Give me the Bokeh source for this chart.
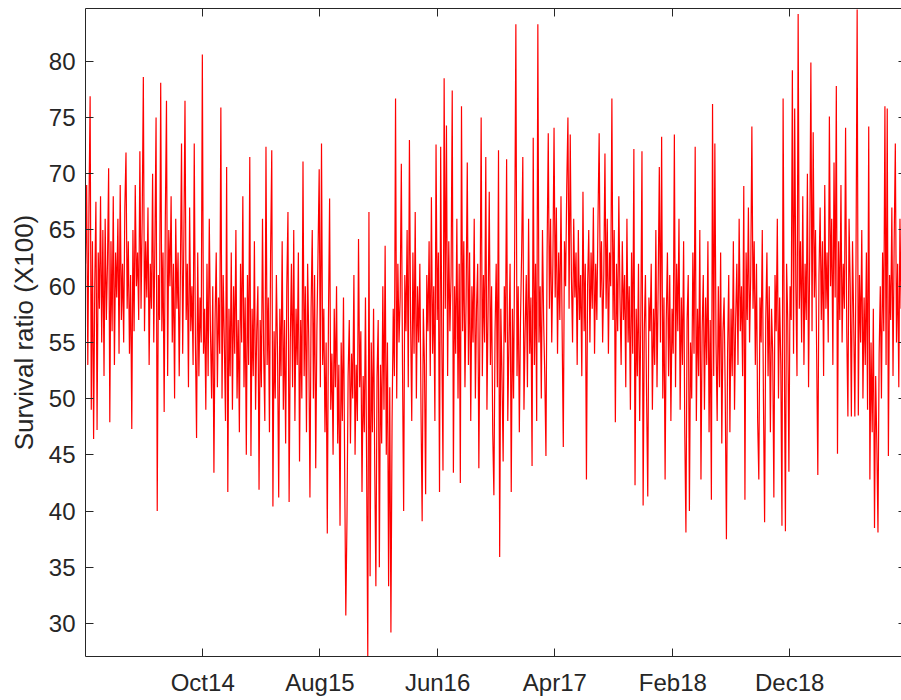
from datetime import datetime

import numpy as np
from bokeh.embed import file_html
from bokeh.models import (CustomJSTickFormatter, DatetimeAxis, DatetimeTickFormatter,
                          FixedTicker, LinearAxis, Range1d)
from bokeh.plotting import figure
from bokeh.resources import INLINE

# survival ratio (x100), one reading every 3 days, starting 1 Dec 2013
season_2014 = [62, 69, 53, 67, 76.9, 49, 64, 46.4, 60, 67.5,
               47.2, 63, 58, 68, 55, 65, 52, 66, 57, 62,
               70.5, 47.9, 64, 56, 68, 53, 63, 59, 66, 54,
               69, 57, 62, 55, 67, 71.9, 58, 64, 54, 61,
               47.3, 65, 56, 69, 60, 63, 57, 72, 58, 66,
               78.6, 56, 64, 59, 67, 53, 62, 58, 70, 55,
               64, 75, 40, 61, 57, 78.1, 56, 63, 48.8, 66,
               76.5, 52, 65, 60, 68, 55, 62, 50, 66, 58,
               63, 52, 61, 72.7, 54, 64, 76.5, 57, 62, 51,
               67, 56, 60, 53, 72.7, 55, 46.5, 63, 52, 59,
               55, 80.6, 54, 58, 49, 62, 52, 66, 56, 50,
               60, 43.4, 57, 63, 51, 59, 54, 75.9, 50, 61,
               55, 48]

season_2015 = [70.6, 41.7, 58, 52, 63, 49, 60, 54, 65, 50,
               57, 47, 62, 55, 68, 51, 59, 45, 61, 53,
               71.5, 44.9, 58, 52, 64, 49, 56, 60, 41.9, 57,
               51, 66, 54, 48, 72.4, 53, 59, 47, 63, 72.1,
               40.4, 56, 50, 61, 54, 41.2, 58, 52, 64, 49,
               57, 46, 60, 66.6, 40.8, 55, 62, 51, 65, 48,
               58, 53, 63, 44.4, 57, 50, 71.1, 52, 60, 47,
               62, 55, 41.2, 58, 65, 50, 61, 43.8, 56, 63,
               70.4, 51, 72.7, 53, 58, 47, 55, 38, 57, 67.8,
               49, 54, 45, 58, 51, 60, 46, 53, 38.7, 55,
               48, 59, 44, 30.7, 39.1, 52, 57, 46, 54, 50,
               61, 45, 53, 48, 64.2, 51, 56, 41.7, 52, 47,
               59, 44]

season_2016 = [27, 66.6, 34.2, 55, 47, 58, 44, 33.3, 52, 57,
               35, 53, 46, 60, 49, 63.6, 45, 55, 33.3, 51,
               29.2, 48, 58, 52, 76.7, 50, 62, 55, 59, 70.9,
               53, 40, 61, 56, 65, 51, 73, 57, 48, 63,
               54, 66.6, 50, 60, 55, 62, 49, 39.1, 58, 53,
               41.5, 61, 56, 64, 52, 67.9, 54, 60, 48, 72.6,
               57, 63, 41.7, 72.4, 55, 43.6, 78.5, 58, 74.3, 52,
               64, 56, 61, 77.4, 43.4, 60, 54, 66, 50, 62,
               42.5, 76, 56, 64, 51, 59, 71, 53, 63, 48,
               60, 55, 66, 50, 58, 62, 43.8, 57, 75, 52,
               61, 55, 71.5, 49, 58, 68.4, 53, 60, 47, 41.4,
               56, 62, 51, 72.1, 35.9, 58, 52, 44.4, 60, 55,
               71.3, 48]

season_2017 = [55, 62, 41.7, 58, 50, 64, 83.3, 52, 60, 47,
               57, 63, 71.5, 49, 56, 61, 51, 66, 54, 59,
               44, 73.2, 53, 62, 48, 83.3, 55, 60, 50, 65,
               57, 52, 44.9, 63, 73.6, 58, 66, 55, 62, 74.1,
               59, 67, 54, 63, 57, 68, 56, 45.7, 64, 60,
               69, 75, 58, 73.5, 61, 55, 66, 59, 63, 53,
               65, 57, 61, 52, 68.4, 56, 62, 42.8, 60, 65,
               55, 63, 58, 67, 54, 62, 57, 66, 73.6, 59,
               64, 55, 61, 71.8, 58, 66, 54, 63, 60, 76.7,
               57, 65, 47.9, 62, 56, 68, 59, 53, 64, 57,
               61, 51, 66, 55, 60, 49, 63, 54, 72.2, 42.3,
               58, 52, 62, 48, 57, 72, 40.5, 56, 61, 50,
               41.3, 59]

season_2018 = [56, 62, 49, 58, 53, 65, 51, 60, 70.6, 55,
               73.3, 50, 59, 42.8, 57, 63, 52, 61, 48, 58,
               54, 73.5, 51, 62, 56, 66, 49, 59, 53, 64,
               47, 38.1, 57, 61, 40, 55, 50, 63, 54, 72.4,
               48, 58, 52, 65, 42.8, 56, 61, 49, 59, 53,
               64, 47, 57, 41, 76.2, 52, 72.7, 55, 48, 60,
               51, 63, 46, 56, 59, 50, 37.5, 54, 61, 47,
               58, 52, 64, 49, 57, 62, 53, 66, 56, 60,
               52, 68.9, 41, 63, 57, 67, 55, 61, 74.2, 58,
               64, 53, 62, 48, 42.8, 59, 55, 65, 50, 39,
               57, 63, 52, 60, 47, 58, 54, 41.2, 61, 56,
               66, 50, 59, 53, 38.7, 76.7, 55, 38.2, 62, 57,
               43.5, 60]

season_2019 = [57, 79.2, 54, 75.8, 60, 52, 84.2, 58, 64, 55,
               68, 53, 62, 57, 70, 51, 63, 79.9, 56, 73.7,
               59, 65, 54, 43.2, 61, 67, 57, 64, 52, 69,
               58, 63, 55, 75.1, 60, 66, 53, 71, 59, 77.8,
               45.1, 64, 57, 69, 55, 62, 58, 74.1, 56, 48.4,
               66, 60, 48.4, 64, 57, 48.4, 62, 84.6, 48.5, 61,
               55, 65, 50, 59, 53, 63, 49, 74.2, 42.8, 55,
               47, 58, 38.5, 52, 46, 38.1, 54, 60, 50, 63,
               56, 76, 53, 75.8, 44.9, 61, 57, 67, 52, 64,
               72.7, 55, 62, 51, 66, 58, 63, 54, 61, 57]

tick_dates = ["2014-10-01", "2015-08-01", "2016-06-01",
              "2017-04-01", "2018-02-01", "2018-12-01"]
y_ticks = [30, 35, 40, 45, 50, 55, 60, 65, 70, 75, 80]

values = season_2014 + season_2015 + season_2016 + season_2017 + season_2018 + season_2019
dates = np.datetime64("2013-12-01") + np.arange(len(values)) * np.timedelta64(3, "D")
tick_ms = [int(np.datetime64(d, "ms").astype(np.int64)) for d in tick_dates]

ink = "#262626"
font = "Liberation Sans"

p = figure(width=901, height=700, x_axis_type="datetime",
           x_range=Range1d(datetime(2013, 12, 1), datetime(2019, 9, 17)),
           y_range=Range1d(27.06, 84.7),
           output_backend="svg", toolbar_location=None,
           min_border_left=85, min_border_right=0,
           min_border_top=8, min_border_bottom=44)
p.outline_line_color = None
p.background_fill_color = "white"
p.border_fill_color = "white"
p.grid.visible = False

p.line(dates, values, line_color="#ff0000", line_width=1.2)

fmt = "%b%y"
p.xaxis.ticker = FixedTicker(ticks=tick_ms)
p.xaxis.formatter = DatetimeTickFormatter(milliseconds=fmt, seconds=fmt, minsec=fmt,
                                          minutes=fmt, hourmin=fmt, hours=fmt,
                                          days=fmt, months=fmt, years=fmt)
p.yaxis.ticker = FixedTicker(ticks=y_ticks)
p.yaxis.axis_label = "Survival ratio (X100)"

for ax in p.xaxis + p.yaxis:
    ax.axis_line_color = ink
    ax.axis_line_width = 1
    ax.major_tick_line_color = ink
    ax.major_tick_in = 8
    ax.major_tick_out = 0
    ax.minor_tick_line_color = None
    ax.major_label_text_color = ink
    ax.major_label_text_font = font
    ax.major_label_text_font_size = "24px"
    ax.axis_label_text_color = ink
    ax.axis_label_text_font = font
    ax.axis_label_text_font_size = "26px"
    ax.axis_label_text_font_style = "normal"

p.xaxis.major_label_standoff = 12
p.yaxis.major_label_standoff = 10
p.yaxis.axis_label_standoff = 7

# box edges: top with ticks, right side only tick stubs (cut off in the original)
blank = CustomJSTickFormatter(code="return ''")
top = DatetimeAxis(ticker=FixedTicker(ticks=tick_ms), formatter=blank,
                   axis_line_color=ink, major_tick_line_color=ink,
                   major_tick_in=8, major_tick_out=0, minor_tick_line_color=None,
                   major_label_standoff=0, major_label_text_font_size="0px")
p.add_layout(top, "above")
right = LinearAxis(ticker=FixedTicker(ticks=y_ticks), formatter=blank,
                   axis_line_color=None, major_tick_line_color=ink,
                   major_tick_in=3, major_tick_out=0, minor_tick_line_color=None,
                   major_label_standoff=0, major_label_text_font_size="0px")
p.add_layout(right, "right")

open("out.html", "w").write(file_html(p, INLINE))
